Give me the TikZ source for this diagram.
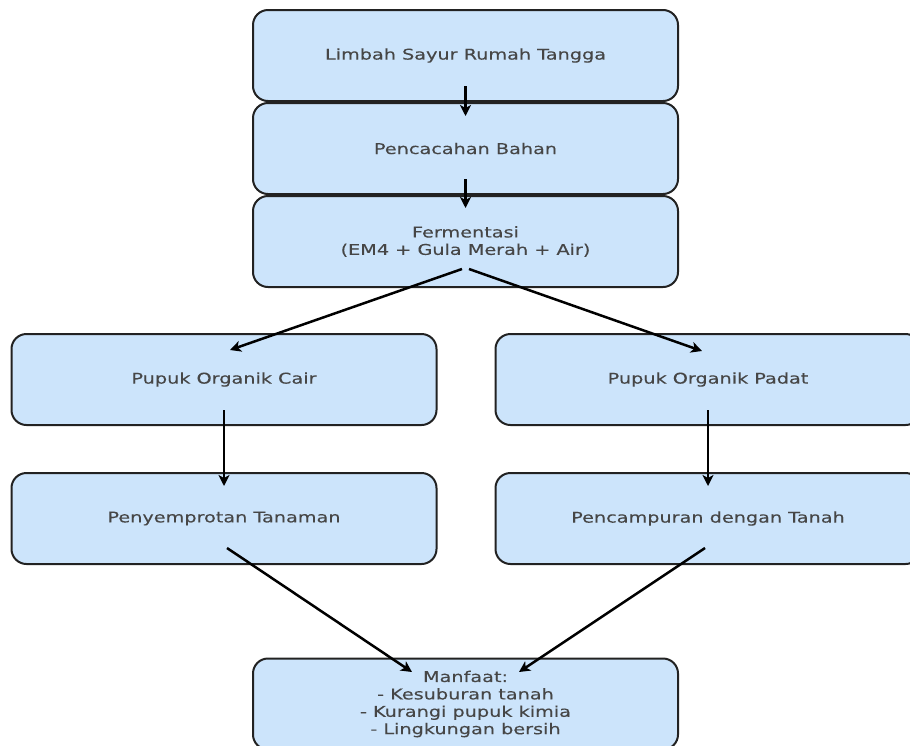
\documentclass[tikz,border=0pt]{standalone}
\usepackage{fontspec}
\setmainfont[FakeStretch=1.3,FakeBold=0.2]{DejaVu Sans}
\usetikzlibrary{arrows.meta}
\definecolor{boxfill}{RGB}{204,228,251}
\definecolor{boxline}{RGB}{34,34,34}
\definecolor{txt}{RGB}{70,70,70}
\tikzset{
  flowbox/.style={draw=boxline, line width=2pt, fill=boxfill, rounded corners=15pt,
    minimum width=425pt, minimum height=91pt, inner sep=0pt, text=txt,
    font=\fontsize{14.8pt}{17.4pt}\selectfont, align=center},
  flowarrow/.style={draw=black, line width=2.5pt, -{Stealth[length=11pt,width=11pt,inset=3pt]}, shorten >=0pt}
}
\begin{document}
\begin{tikzpicture}[x=1pt,y=-1pt]
\useasboundingbox (0,0) rectangle (910,745);
\clip (0,0) rectangle (910,745);
\node[flowbox] (limbah) at (465.5,55.5) {Limbah Sayur Rumah Tangga};
\node[flowbox] (cacah) at (465.5,148.5) {Pencacahan Bahan};
\node[flowbox] (ferm) at (465.5,241.5) {Fermentasi\\(EM4 + Gula Merah + Air)};
\node[flowbox] (cair) at (224,379.5) {Pupuk Organik Cair};
\node[flowbox] (padat) at (708,379.5) {Pupuk Organik Padat};
\node[flowbox] (semprot) at (224,518.5) {Penyemprotan Tanaman};
\node[flowbox] (campur) at (708,518.5) {Pencampuran dengan Tanah};
\node[flowbox] (manfaat) at (465.5,704) {Manfaat:\\- Kesuburan tanah\\- Kurangi pupuk kimia\\- Lingkungan bersih};
% connector end points inside boxes
\coordinate (limbahS) at ([yshift=-30.5pt]limbah.center);
\coordinate (cacahN) at ([yshift=32.5pt]cacah.center);
\coordinate (cacahS) at ([yshift=-30.5pt]cacah.center);
\coordinate (fermN) at ([yshift=33.5pt]ferm.center);
\coordinate (fermSL) at ([xshift=-3.5pt,yshift=-27.5pt]ferm.center);
\coordinate (fermSR) at ([xshift=3.5pt,yshift=-27.5pt]ferm.center);
\coordinate (cairN) at ([xshift=6pt,yshift=29.5pt]cair.center);
\coordinate (padatN) at ([xshift=-6pt,yshift=28.5pt]padat.center);
\coordinate (cairS) at ([yshift=-30.5pt]cair.center);
\coordinate (padatS) at ([yshift=-30.5pt]padat.center);
\coordinate (semprotN) at ([yshift=32.5pt]semprot.center);
\coordinate (campurN) at ([yshift=32.5pt]campur.center);
\coordinate (semprotS) at ([xshift=3pt,yshift=-29.5pt]semprot.center);
\coordinate (campurS) at ([xshift=-3pt,yshift=-29.5pt]campur.center);
\coordinate (manfaatL) at ([xshift=-53.5pt,yshift=32pt]manfaat.center);
\coordinate (manfaatR) at ([xshift=53.5pt,yshift=32pt]manfaat.center);
\draw[flowarrow] (limbahS) -- (cacahN);
\draw[flowarrow] (cacahS) -- (fermN);
\draw[flowarrow] (fermSL) -- (cairN);
\draw[flowarrow] (fermSR) -- (padatN);
\draw[flowarrow] (cairS) -- (semprotN);
\draw[flowarrow] (padatS) -- (campurN);
\draw[flowarrow] (semprotS) -- (manfaatL);
\draw[flowarrow] (campurS) -- (manfaatR);
\end{tikzpicture}
\end{document}
